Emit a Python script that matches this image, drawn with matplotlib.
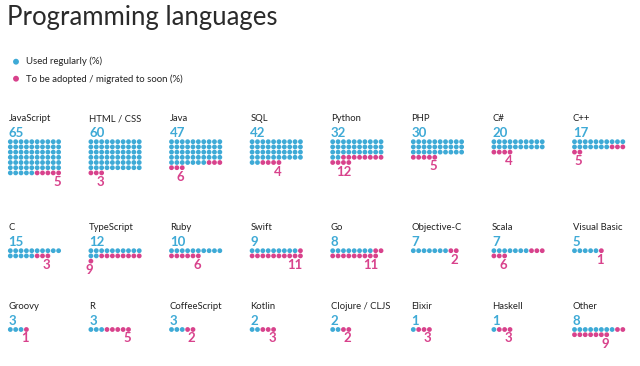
import matplotlib
matplotlib.use("Agg")
import matplotlib.pyplot as plt

# data
languages = [
    ["JavaScript", "HTML / CSS", "Java", "SQL", "Python", "PHP", "C#", "C++"],
    ["C", "TypeScript", "Ruby", "Swift", "Go", "Objective-C", "Scala", "Visual Basic"],
    ["Groovy", "R", "CoffeeScript", "Kotlin", "Clojure / CLJS", "Elixir", "Haskell", "Other"],
]
used = [
    [65, 60, 47, 42, 32, 30, 20, 17],
    [15, 12, 10, 9, 8, 7, 7, 5],
    [3, 3, 3, 2, 2, 1, 1, 8],
]
adopt = [
    [5, 3, 6, 4, 12, 5, 4, 5],
    [3, 9, 6, 11, 11, 2, 6, 1],
    [1, 5, 2, 3, 2, 3, 3, 9],
]

BLUE = "#3eaad6"
PINK = "#d8428c"
TEXT = "#222222"
FONT = "Lato"

per_row = 10
dx, dy = 5.37, 5.2
col_x = [8.5 + i * 80.6 for i in range(8)]
row_dot_y = [141.7, 250.7, 329.5]

fig = plt.figure(figsize=(6.4, 3.66), dpi=100)
ax = fig.add_axes([0, 0, 1, 1])
ax.set_xlim(0, 640)
ax.set_ylim(366, 0)
ax.axis("off")

ax.text(7, 24.5, "Programming languages", fontsize=18.5, family=FONT,
        fontweight="normal", color="#2a2a2a", va="baseline")

# legend
ax.scatter([16, 16], [61.7, 78.7], s=18, c=[BLUE, PINK], linewidths=0)
ax.text(26, 64.5, "Used regularly (%)", fontsize=6.9, family=FONT, color=TEXT, va="baseline")
ax.text(26, 81.5, "To be adopted / migrated to soon (%)", fontsize=6.9, family=FONT, color=TEXT, va="baseline")

for r in range(3):
    for c in range(8):
        x0 = col_x[c] + 1.8
        y0 = row_dot_y[r]
        n_b, n_p = used[r][c], adopt[r][c]
        xs, ys, cols = [], [], []
        for k in range(n_b + n_p):
            xs.append(x0 + (k % per_row) * dx)
            ys.append(y0 + (k // per_row) * dy)
            cols.append(BLUE if k < n_b else PINK)
        ax.scatter(xs, ys, s=12, c=cols, linewidths=0)
        ax.text(col_x[c], y0 - 20.5, languages[r][c], fontsize=6.8, family=FONT,
                color=TEXT, va="baseline")
        ax.text(col_x[c], y0 - 4.4, str(n_b), fontsize=9.5, family=FONT,
                fontweight="bold", color=BLUE, va="baseline")
        ax.text(xs[-1] + 2.3, ys[-1] + 13, str(n_p), fontsize=9.5, family=FONT,
                fontweight="bold", color=PINK, va="baseline", ha="right")

fig.savefig("out.png", dpi=100)
